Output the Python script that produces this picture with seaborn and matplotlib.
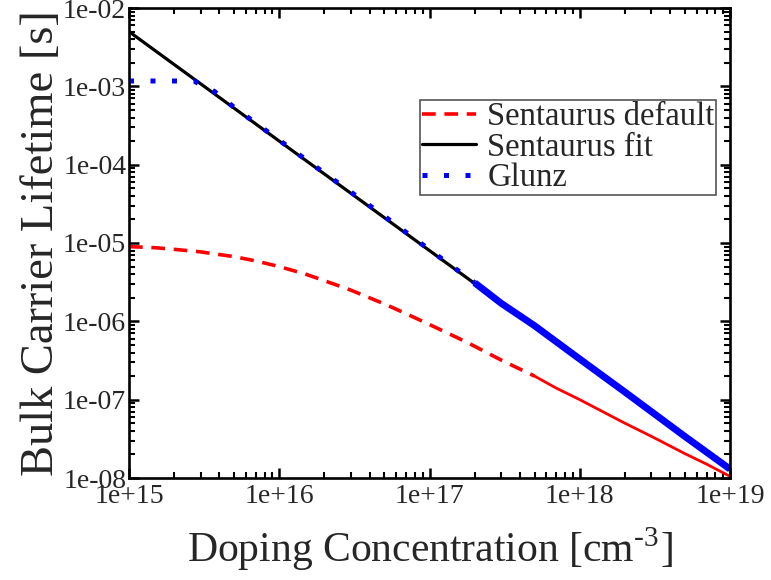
import numpy as np
import pandas as pd
import seaborn as sns
import matplotlib
matplotlib.use("Agg")
import matplotlib.pyplot as plt
from matplotlib.lines import Line2D
from matplotlib.ticker import LogLocator, FuncFormatter, NullFormatter

# ---------------- data ----------------
n_default = [1e15, 1.5e15, 2e15, 3e15, 5e15, 7e15, 1e16, 1.5e16, 2e16, 3e16, 5e16, 7e16,
             1e17, 1.5e17, 2e17, 3e17, 5e17, 7e17, 1e18, 2e18, 3e18, 5e18, 7e18, 1e19]
tau_default = [9.0e-6, 8.7e-6, 8.3e-6, 7.7e-6, 6.7e-6, 5.9e-6, 5.0e-6, 4.0e-6, 3.3e-6, 2.5e-6,
               1.67e-6, 1.25e-6, 9.1e-7, 6.3e-7, 4.8e-7, 3.2e-7, 2.0e-7, 1.4e-7, 1.0e-7,
               5.0e-8, 3.4e-8, 2.05e-8, 1.5e-8, 1.05e-8]

n_fit = [1e15, 1e16, 1e17, 1e18, 1e19]
tau_fit = [5.0e-3, 2.0e-4, 8.0e-6, 3.2e-7, 1.26e-8]

n_glunz = [1e15, 2e15, 2.7e15, 3.7e15, 5e15, 1e16, 2e16, 5e16, 1e17, 2e17, 3e17,
           5e17, 1e18, 2e18, 5e18, 1e19]
tau_glunz = [1.17e-3, 1.17e-3, 1.17e-3, 8.6e-4, 5.4e-4, 2.05e-4, 7.8e-5, 2.2e-5, 8.2e-6,
             3.1e-6, 1.7e-6, 8.8e-7, 3.3e-7, 1.25e-7, 3.4e-8, 1.3e-8]

labels = ["Sentaurus default", "Sentaurus fit", "Glunz"]
x_ticks = [1e15, 1e16, 1e17, 1e18, 1e19]
y_ticks = [1e-8, 1e-7, 1e-6, 1e-5, 1e-4, 1e-3, 1e-2]

# ---------------- style ----------------
sns.set_theme(style="ticks")
plt.rcParams["font.family"] = ["Liberation Serif", "DejaVu Serif"]
plt.rcParams["mathtext.fontset"] = "stix"

RED = "#ff0000"
BLUE = "#0000ff"

fig = plt.figure(figsize=(7.71, 5.80), dpi=100)
ax = fig.add_axes([129 / 771, 1 - 478 / 580, (730 - 129) / 771, (478 - 8) / 580])

df_def = pd.DataFrame({"N": n_default, "tau": tau_default})
df_fit = pd.DataFrame({"N": n_fit, "tau": tau_fit})
df_gl = pd.DataFrame({"N": n_glunz, "tau": tau_glunz})

split_def = n_default.index(5e17)
split_gl = n_glunz.index(2e17)

# Sentaurus default: dashed, then solid where samples become dense
sns.lineplot(data=df_def.iloc[:split_def + 1], x="N", y="tau", ax=ax, sort=False,
             estimator=None, color=RED, linewidth=2.6, dashes=False,
             linestyle=(0, (3.8, 2.4)), dash_capstyle="butt")
sns.lineplot(data=df_def.iloc[split_def:], x="N", y="tau", ax=ax, sort=False,
             estimator=None, color=RED, linewidth=2.0)

# Sentaurus fit
sns.lineplot(data=df_fit, x="N", y="tau", ax=ax, sort=False, estimator=None,
             color="black", linewidth=2.3)

# Glunz: dotted, becoming a dense band at high doping
sns.lineplot(data=df_gl.iloc[:split_gl + 1], x="N", y="tau", ax=ax, sort=False,
             estimator=None, color=BLUE, linewidth=3.6,
             linestyle=(0, (1.0, 3.3)), dash_capstyle="butt")
sns.lineplot(data=df_gl.iloc[split_gl:], x="N", y="tau", ax=ax, sort=False,
             estimator=None, color=BLUE, linewidth=5.0, solid_capstyle="butt")

ax.set_xscale("log")
ax.set_yscale("log")
ax.set_xlim(1e15, 1e19)
ax.set_ylim(1e-8, 1e-2)

fmt = FuncFormatter(lambda v, p: f"{v:.0e}")
ax.set_xticks(x_ticks)
ax.set_yticks(y_ticks)
ax.xaxis.set_major_formatter(fmt)
ax.yaxis.set_major_formatter(fmt)
ax.xaxis.set_minor_locator(LogLocator(base=10, subs=np.arange(2, 10), numticks=50))
ax.yaxis.set_minor_locator(LogLocator(base=10, subs=np.arange(2, 10), numticks=50))
ax.xaxis.set_minor_formatter(NullFormatter())
ax.yaxis.set_minor_formatter(NullFormatter())

ax.tick_params(which="both", direction="in", top=True, right=True, color="black")
ax.tick_params(which="major", length=7, width=1.8, labelsize=20)
ax.tick_params(axis="x", which="major", pad=4)
ax.tick_params(axis="y", which="major", pad=2)
ax.tick_params(which="minor", length=4, width=1.5)
for s in ax.spines.values():
    s.set_linewidth(1.9)
    s.set_color("black")

ax.set_xlabel("Doping Concentration [cm$^{\\mathregular{\u2010}\\mathregular{3}}$]",
              fontsize=30, labelpad=12)
ax.set_ylabel("Bulk Carrier Lifetime [s]", fontsize=33.5, labelpad=0)

handles = [
    Line2D([], [], color=RED, linewidth=2.6, linestyle=(0, (3.8, 2.4))),
    Line2D([], [], color="black", linewidth=2.3),
    Line2D([], [], color=BLUE, linewidth=3.6, linestyle=(0, (1.0, 3.3))),
]
leg = ax.legend(handles, labels, loc="upper right", bbox_to_anchor=(0.977, 0.804),
                fontsize=23.5, frameon=True, fancybox=False, framealpha=1,
                edgecolor="#555555", borderpad=0.05, labelspacing=0.0,
                handlelength=1.65, handletextpad=0.35, borderaxespad=0.0)
leg.get_frame().set_linewidth(1.2)

fig.savefig("out.png", dpi=100)
